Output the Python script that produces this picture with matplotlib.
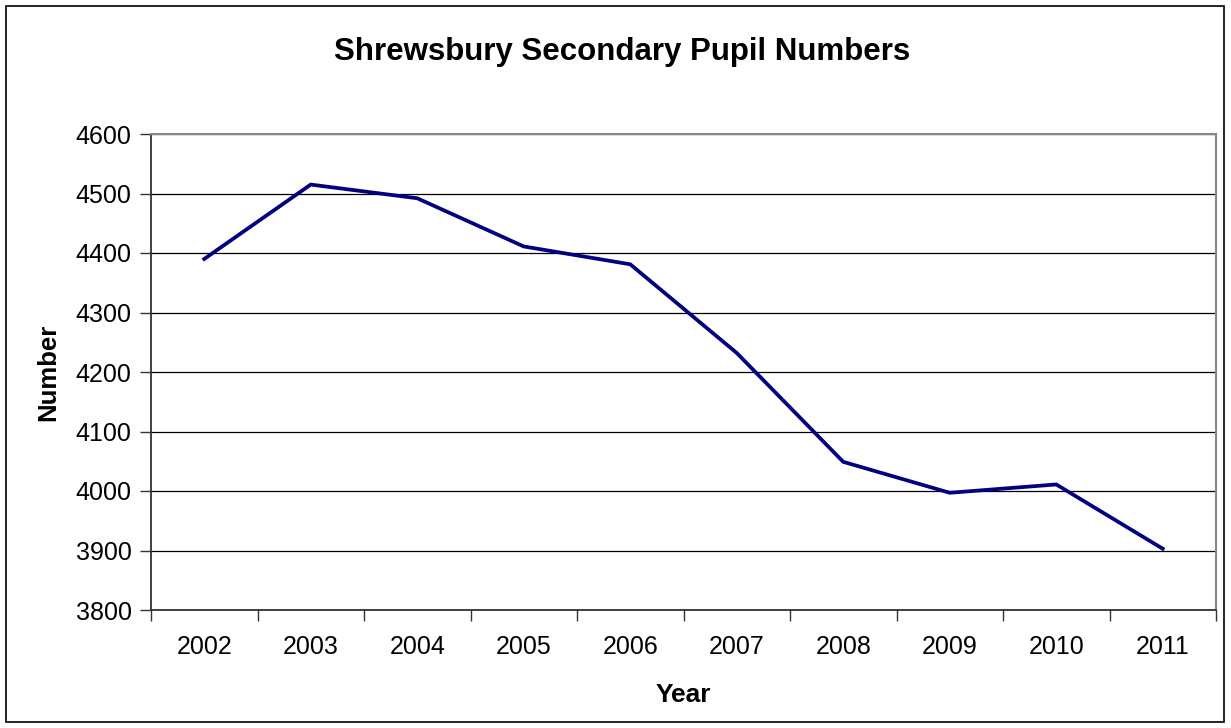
import numpy as np
import matplotlib.pyplot as plt
from matplotlib.patches import Rectangle

plt.rcParams['font.family'] = ['Liberation Sans', 'DejaVu Sans']

# Pupil numbers per year
years = ['2002', '2003', '2004', '2005', '2006', '2007', '2008', '2009', '2010', '2011']
pupils = [4390, 4515, 4492, 4411, 4381, 4232, 4049, 3997, 4011, 3903]
y_ticks = [3800, 3900, 4000, 4100, 4200, 4300, 4400, 4500, 4600]

fig = plt.figure(figsize=(12.31, 7.28), dpi=100)
ax = fig.add_axes([151 / 1231, 1 - 610 / 728, 1065 / 1231, 476 / 728])

# outer chart frame
fig.patches.append(Rectangle((6 / 1231, 6 / 728), 1218 / 1231, 716 / 728,
                             transform=fig.transFigure, fill=False,
                             edgecolor='black', linewidth=1.2))

x = np.arange(len(years))
ax.plot(x, pupils, color='#000080', linewidth=2.7, solid_joinstyle='miter', zorder=3)

ax.set_xlim(-0.5, len(years) - 0.5)
ax.set_ylim(3800, 4600)
ax.set_yticks(y_ticks)
ax.set_yticklabels([str(v) for v in y_ticks], fontsize=18)
ax.yaxis.grid(True, color='black', linewidth=0.9)
ax.set_axisbelow(True)

# category labels sit between the tick marks
ax.set_xticks(np.arange(len(years) + 1) - 0.5)
ax.set_xticklabels([])
ax.set_xticks(x, minor=True)
ax.set_xticklabels(years, minor=True, fontsize=18)
ax.tick_params(axis='x', which='major', direction='out', length=8, width=1, color='#333333')
ax.tick_params(axis='x', which='minor', length=0, pad=18)
ax.tick_params(axis='y', direction='out', length=8, width=1, color='#333333', pad=6)

for side in ['top', 'right']:
    ax.spines[side].set_color('#888888')
    ax.spines[side].set_linewidth(1.5)
for side in ['left', 'bottom']:
    ax.spines[side].set_color('#333333')
    ax.spines[side].set_linewidth(1.3)

ax.set_xlabel('Year', fontsize=19, fontweight='bold', labelpad=17)
ax.set_ylabel('Number', fontsize=18.5, fontweight='bold', labelpad=11)
fig.text(622 / 1231, 1 - 52 / 728, 'Shrewsbury Secondary Pupil Numbers',
         ha='center', va='center', fontsize=22.5, fontweight='bold')

fig.savefig('out.png', dpi=100)
